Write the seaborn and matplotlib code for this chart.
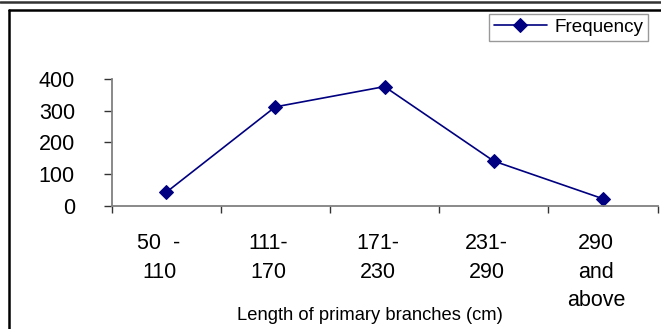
import matplotlib
matplotlib.use("Agg")
import matplotlib.pyplot as plt
from matplotlib.lines import Line2D
from matplotlib.transforms import ScaledTranslation
import seaborn as sns
import pandas as pd
import numpy as np

categories = ["50  -\n110", "111-\n170", "171-\n230", "231-\n290", "290\nand\nabove"]
frequency = [42, 312, 376, 141, 22]
y_ticks = [0, 100, 200, 300, 400]

sns.set_style("white")
plt.rcParams['font.family'] = ['Liberation Sans', 'DejaVu Sans']
plt.rcParams['text.color'] = 'black'
plt.rcParams['xtick.color'] = 'black'
plt.rcParams['ytick.color'] = 'black'
plt.rcParams['axes.labelcolor'] = 'black'

W, H = 661, 329
fig = plt.figure(figsize=(W / 100, H / 100), dpi=100)
ax = fig.add_axes([111.5 / W, 1 - 205.7 / H, (657.5 - 111.5) / W, (205.7 - 79) / H])

df = pd.DataFrame({"pos": np.arange(len(categories)), "Frequency": frequency})
sns.lineplot(data=df, x="pos", y="Frequency", ax=ax, color="#000080", marker="D",
             markersize=7, markeredgecolor="#000080", linewidth=1.2, label="Frequency")

ax.set_xlim(-0.5, len(categories) - 0.5)
ax.set_ylim(0, 400)
ax.set_yticks(y_ticks)
ax.set_yticklabels([str(v) for v in y_ticks], fontsize=15.5)
ax.set_xticks(np.arange(len(categories)))
ax.set_xticklabels(categories, fontsize=15.5, linespacing=1.46)
ax.set_xticks(np.arange(len(categories) + 1) - 0.5, minor=True)
ax.tick_params(axis="x", which="major", length=0, pad=20)
ax.tick_params(axis="x", which="minor", length=5, width=1, color="#333333", direction="out", bottom=True)
ax.tick_params(axis="y", length=5.8, width=1, color="#333333", direction="out", left=True, pad=20.5)
for lbl in ax.get_xticklabels():
    lbl.set_transform(lbl.get_transform() + ScaledTranslation(-7 / 100, 0, fig.dpi_scale_trans))

ax.set_xlabel("Length of primary branches (cm)", fontsize=13.2)
ax.xaxis.set_label_coords(370 / W, 1 - 315 / H, transform=fig.transFigure)
ax.xaxis.label.set_va("center")
ax.set_ylabel("")

for s in ["top", "right"]:
    ax.spines[s].set_visible(False)
for s in ["left", "bottom"]:
    ax.spines[s].set_color("#808080")
    ax.spines[s].set_linewidth(1.3)

leg = ax.legend(loc="upper left", bbox_to_anchor=(489 / W, 1 - 14 / H), bbox_transform=fig.transFigure,
                borderaxespad=0, frameon=True, fancybox=False, fontsize=13.6, handlelength=2.8,
                handletextpad=0.4, borderpad=0.25)
leg.get_frame().set_edgecolor("#808080")
leg.get_frame().set_linewidth(1)

# decorative frame
fig.add_artist(Line2D([0, 1], [1 - 1.5 / H, 1 - 1.5 / H], transform=fig.transFigure, color="#333333", linewidth=1.8))
fig.add_artist(Line2D([8.5 / W, 1], [1 - 10 / H, 1 - 10 / H], transform=fig.transFigure, color="black", linewidth=1.8))
fig.add_artist(Line2D([9 / W, 9 / W], [0, 1 - 10 / H], transform=fig.transFigure, color="black", linewidth=1.8))

fig.savefig("out.png", dpi=100)
